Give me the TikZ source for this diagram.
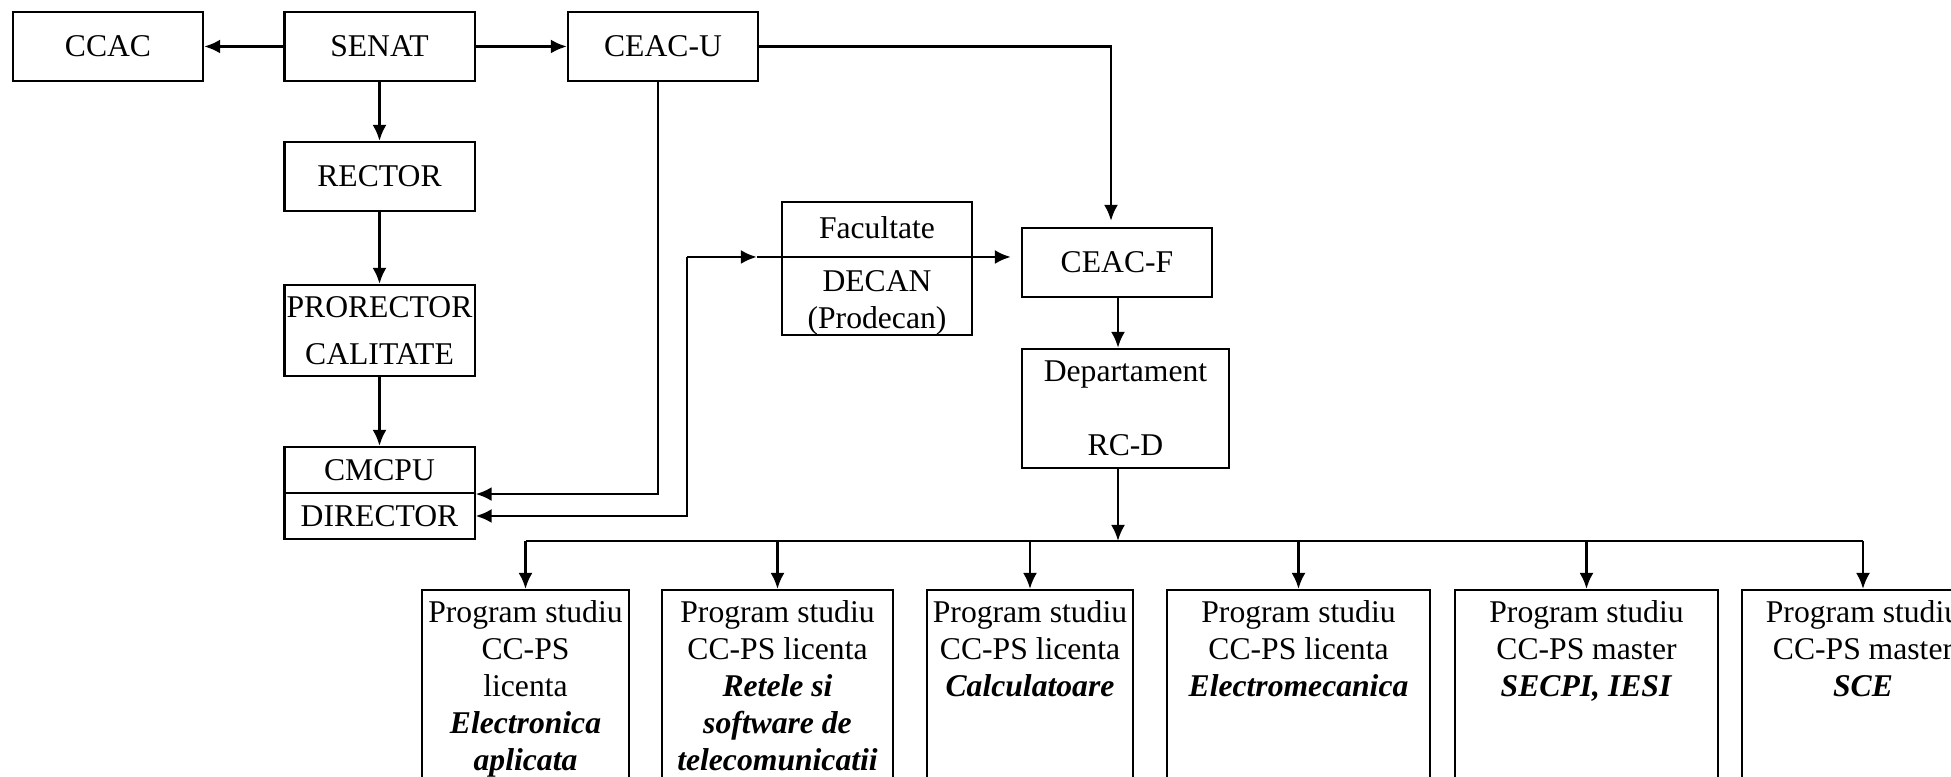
\documentclass[tikz,border=0pt]{standalone}
\usepackage{fontspec}
\setmainfont{Liberation Serif}
\usetikzlibrary{shapes,arrows,arrows.meta,positioning}
\tikzstyle{unit} = [draw,rectangle,line width=0.6pt,inner sep=0,minimum width=1.9cm,minimum height=0.69cm,align=center,font=\fontsize{9}{10.5}\selectfont]
\tikzstyle{link} = [-{Latex[length=0.16cm,width=0.14cm]},line width=0.8pt]
\tikzstyle{program} = [draw,rectangle,line width=0.6pt,anchor=north,minimum height=2.6cm]
\tikzstyle{programtext} = [align=center,inner sep=0,font=\fontsize{9}{10.5}\selectfont]
\def \gap {0.11cm}
\newcommand{\specname}[1]{\textbf{\textit{#1}}}

\begin{document}
\begin{tikzpicture}[x=0.01cm,y=-0.01cm]
      \useasboundingbox (0,0) rectangle (1951,777);
      \clip (0,0) rectangle (1951,777);
      % university level
      \node[unit] (ccac) at (108,46.5) {CCAC};
      \node[unit] (senat) at (379.5,46.5) {SENAT};
      \node[unit] (ceacu) at (663,46.5) {CEAC-U};
      \node[unit] (rector) at (379.5,176.5) {RECTOR};
      \node[unit,minimum height=0.91cm] (prorector) at (379.5,330.5) {PRORECTOR\\[0.1cm]CALITATE};
      \node[unit,minimum height=0.46cm] (cmcpu) at (379.5,470) {CMCPU};
      \node[unit,minimum height=0.46cm] (director) at (379.5,516) {DIRECTOR};
      % faculty level
      \node[unit,minimum height=1.29cm] (fac) at (877,268.5) {\rule{0pt}{0.37cm}Facultate\\[0.16cm]DECAN\\(Prodecan)};
      \node[unit] (ceacf) at (1117,262.5) {CEAC-F};
      \node[unit,minimum width=2.07cm,minimum height=1.19cm] (dept) at (1125.5,408.5) {Departament\\\mbox{}\\RC-D};
      \coordinate (hub) at (1118,541);
      \coordinate (turn) at (687,257);
      % study programs
      \node[program,minimum width=2.07cm] (prog1) at (525.5,589) {};
      \node[programtext,below=\gap of prog1.north] (text1) {Program studiu\\CC-PS\\licenta\\\specname{Electronica}\\\specname{aplicata}};
      \node[program,minimum width=2.31cm] (prog2) at (777.5,589) {};
      \node[programtext,below=\gap of prog2.north] (text2) {Program studiu\\CC-PS licenta\\\specname{Retele si}\\\specname{software de}\\\specname{telecomunicatii}};
      \node[program,minimum width=2.06cm] (prog3) at (1030,589) {};
      \node[programtext,below=\gap of prog3.north] (text3) {Program studiu\\CC-PS licenta\\\specname{Calculatoare}};
      \node[program,minimum width=2.63cm] (prog4) at (1298.5,589) {};
      \node[programtext,below=\gap of prog4.north] (text4) {Program studiu\\CC-PS licenta\\\specname{Electromecanica}};
      \node[program,minimum width=2.63cm] (prog5) at (1586.5,589) {};
      \node[programtext,below=\gap of prog5.north] (text5) {Program studiu\\CC-PS master\\\specname{SECPI, IESI}};
      \node[program,minimum width=2.42cm] (prog6) at (1863,589) {};
      \node[programtext,below=\gap of prog6.north] (text6) {Program studiu\\CC-PS master\\\specname{SCE}};
      % connectors
      \draw[link] (senat) -- (ccac);
      \draw[link] (senat) -- (ceacu);
      \draw[link] (senat) -- (rector);
      \draw[link] (rector) -- (prorector);
      \draw[link] (prorector) -- (cmcpu);
      \draw[link] ([xshift=-0.05cm]ceacu.south) |- (cmcpu.south east);
      \draw[link] (turn) |- (director.east);
      \draw[link] (turn) -- ([xshift=-0.24cm]fac.west |- turn);
      \draw[link,shorten >=0.1cm] ([xshift=-0.24cm]fac.west |- turn) -- (ceacf.west |- turn);
      \draw[link,shorten >=0.06cm] (ceacu.east) -| ([xshift=-0.06cm]ceacf.north);
      \draw[link] (ceacf.south -| hub) -- (dept.north -| hub);
      \draw[link] (dept.south -| hub) -- (hub);
      \draw[line width=0.8pt] (prog1.north |- hub) -- (prog6.north |- hub);
      \draw[link] (prog1.north |- hub) -- (prog1.north);
      \draw[link] (prog2.north |- hub) -- (prog2.north);
      \draw[link] (prog3.north |- hub) -- (prog3.north);
      \draw[link] (prog4.north |- hub) -- (prog4.north);
      \draw[link] (prog5.north |- hub) -- (prog5.north);
      \draw[link] (prog6.north |- hub) -- (prog6.north);
    \end{tikzpicture}
\end{document}
